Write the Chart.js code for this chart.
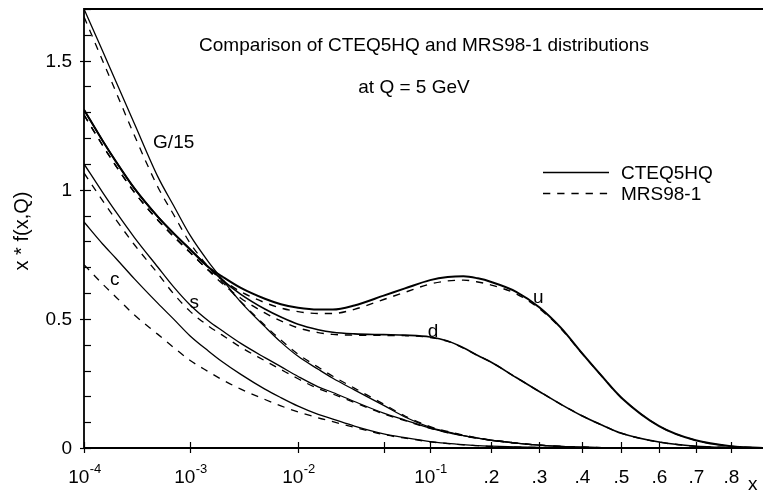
<!DOCTYPE html>
<html>
<head>
<meta charset="utf-8">
<script src="https://cdn.jsdelivr.net/npm/chart.js@4.4.1/dist/chart.umd.min.js"></script>
<style>
  html, body { margin: 0; padding: 0; background: #fff; }
  #wrap { width: 763px; height: 495px; position: relative; }
</style>
</head>
<body>
<div id="wrap"><canvas id="c" width="763" height="495"></canvas></div>
<script>
// ---------------- data ----------------
const xValues = [1e-4, 1.5e-4, 2e-4, 3e-4, 5e-4, 7e-4,
                 1e-3, 1.5e-3, 2e-3, 3e-3, 5e-3, 7e-3,
                 1e-2, 1.5e-2, 2e-2, 3e-2, 5e-2, 7e-2,
                 0.1, 0.125, 0.15, 0.175, 0.2, 0.25,
                 0.3, 0.35, 0.4, 0.45, 0.5, 0.6,
                 0.7, 0.8, 0.892];

const gluonCTEQ = [1.70, 1.537, 1.42, 1.256, 1.05, 0.94,
                   0.825, 0.72, 0.655, 0.565, 0.47, 0.41,
                   0.355, 0.305, 0.27, 0.225, 0.165, 0.12,
                   0.08, 0.062, 0.048, 0.038, 0.03, 0.019,
                   0.011, 0.006, 0.003, 0.0015, 0.0008, 0.0002,
                   0, 0, 0];
const gluonMRS  = [1.67, 1.50, 1.38, 1.21, 1.01, 0.905,
                   0.795, 0.70, 0.645, 0.567, 0.475, 0.418,
                   0.363, 0.313, 0.278, 0.232, 0.17, 0.124,
                   0.083, 0.064, 0.05, 0.039, 0.031, 0.019,
                   0.011, 0.006, 0.003, 0.0015, 0.0008, 0.0002,
                   0, 0, 0];
const upCTEQ    = [1.31, 1.19, 1.11, 1.005, 0.895, 0.832,
                   0.77, 0.70, 0.665, 0.62, 0.578, 0.557,
                   0.543, 0.536, 0.536, 0.552, 0.59, 0.618,
                   0.65, 0.662, 0.665, 0.657, 0.643, 0.605,
                   0.545, 0.465, 0.368, 0.278, 0.195, 0.085,
                   0.03, 0.007, 0];
const upMRS     = [1.29, 1.172, 1.093, 0.99, 0.882, 0.82,
                   0.758, 0.688, 0.652, 0.605, 0.563, 0.542,
                   0.528, 0.521, 0.521, 0.537, 0.575, 0.603,
                   0.635, 0.647, 0.65, 0.643, 0.631, 0.597,
                   0.54, 0.462, 0.367, 0.278, 0.195, 0.085,
                   0.03, 0.007, 0];
const downCTEQ  = [1.31, 1.19, 1.11, 1.005, 0.895, 0.832,
                   0.77, 0.70, 0.652, 0.595, 0.538, 0.507,
                   0.479, 0.458, 0.448, 0.442, 0.439, 0.437,
                   0.43, 0.414, 0.388, 0.358, 0.332, 0.273,
                   0.219, 0.169, 0.125, 0.089, 0.057, 0.023,
                   0.007, 0.002, 0];
const downMRS   = [1.29, 1.172, 1.093, 0.99, 0.882, 0.82,
                   0.758, 0.687, 0.638, 0.58, 0.523, 0.492,
                   0.465, 0.447, 0.44, 0.437, 0.436, 0.435,
                   0.428, 0.413, 0.387, 0.358, 0.332, 0.273,
                   0.219, 0.169, 0.125, 0.089, 0.057, 0.023,
                   0.007, 0.002, 0];
const strangeCTEQ = [1.10, 0.99, 0.915, 0.815, 0.70, 0.625,
                     0.555, 0.492, 0.455, 0.405, 0.35, 0.315,
                     0.277, 0.237, 0.215, 0.18, 0.135, 0.108,
                     0.077, 0.06, 0.048, 0.038, 0.03, 0.019,
                     0.011, 0.006, 0.003, 0.0015, 0.0007, 0.0001,
                     0, 0, 0];
const strangeMRS  = [1.065, 0.958, 0.885, 0.787, 0.675, 0.598,
                     0.53, 0.472, 0.438, 0.39, 0.338, 0.304,
                     0.268, 0.23, 0.209, 0.176, 0.132, 0.106,
                     0.076, 0.059, 0.047, 0.037, 0.03, 0.019,
                     0.011, 0.006, 0.003, 0.0015, 0.0007, 0.0001,
                     0, 0, 0];
const charmCTEQ = [0.875, 0.79, 0.735, 0.655, 0.56, 0.50,
                   0.435, 0.375, 0.335, 0.285, 0.228, 0.195,
                   0.162, 0.13, 0.112, 0.085, 0.055, 0.04,
                   0.025, 0.018, 0.013, 0.009, 0.007, 0.004,
                   0.002, 0.001, 0, 0, 0, 0,
                   0, 0, 0];
const charmMRS  = [0.71, 0.635, 0.585, 0.515, 0.44, 0.39,
                   0.34, 0.295, 0.265, 0.228, 0.188, 0.163,
                   0.14, 0.117, 0.102, 0.08, 0.052, 0.038,
                   0.024, 0.017, 0.012, 0.009, 0.006, 0.0035,
                   0.0018, 0.0008, 0, 0, 0, 0,
                   0, 0, 0];

const xTickValues = [1e-4, 1e-3, 1e-2, 5e-2, 0.1, 0.2, 0.3, 0.4, 0.5, 0.6, 0.7, 0.8];
const xTickLabels = [['10','-4'], ['10','-3'], ['10','-2'], null, ['10','-1'], ['.2'], ['.3'], ['.4'], ['.5'], ['.6'], ['.7'], ['.8']];
const yMajorTicks = [0, 0.5, 1, 1.5];
const yMajorLabels = ['0', '0.5', '1', '1.5'];
const yMinorStep = 0.1;

const titleLine1 = 'Comparison of CTEQ5HQ and MRS98-1 distributions';
const titleLine2 = 'at Q = 5 GeV';
const legendLabels = ['CTEQ5HQ', 'MRS98-1'];
const curveLabels = [
  { text: 'G/15', x: 4.5e-4, y: 1.162 },
  { text: 'u', x: 0.286, y: 0.562 },
  { text: 'd', x: 0.097, y: 0.43 },
  { text: 's', x: 9.9e-4, y: 0.542 },
  { text: 'c', x: 1.76e-4, y: 0.631 }
];

// ---------------- mixed log/linear x scale ----------------
const MIX_A = 2.78;
function mix(v) { return Math.log10(v) + MIX_A * v; }

class MixLogScale extends Chart.Scale {
  determineDataLimits() {
    const mm = this.getMinMax(true);
    this.min = this.options.min != null ? this.options.min : mm.min;
    this.max = this.options.max != null ? this.options.max : mm.max;
  }
  buildTicks() { return xTickValues.map(v => ({ value: v })); }
  configure() {
    super.configure();
    this._t0 = mix(this.min);
    this._tr = mix(this.max) - this._t0;
  }
  getLabelForValue(v) { return String(v); }
  getPixelForValue(v) {
    if (v == null || isNaN(v) || v <= 0) return NaN;
    return this.getPixelForDecimal((mix(v) - this._t0) / this._tr);
  }
  getPixelForTick(i) { return this.getPixelForValue(this.ticks[i].value); }
  getValueForPixel(p) {
    const d = this.getDecimalForPixel(p);
    const target = this._t0 + d * this._tr;
    let lo = 1e-8, hi = 10;
    for (let k = 0; k < 80; k++) {
      const mid = Math.sqrt(lo * hi);
      if (mix(mid) < target) lo = mid; else hi = mid;
    }
    return lo;
  }
}
MixLogScale.id = 'mixlog';
MixLogScale.defaults = {};
Chart.register(MixLogScale);

// ---------------- datasets ----------------
function pts(arr) { return xValues.map((x, i) => ({ x: x, y: arr[i] })); }
const DASH = [7.3, 6.9];
function ds(arr, dashed, width) {
  return {
    data: pts(arr),
    borderColor: '#000',
    borderWidth: width,
    borderDash: dashed ? DASH : [],
    pointRadius: 0,
    fill: false,
    cubicInterpolationMode: 'monotone'
  };
}
const datasets = [
  ds(gluonCTEQ, false, 1.3), ds(gluonMRS, true, 1.3),
  ds(upCTEQ, false, 2.0), ds(upMRS, true, 1.4),
  ds(downCTEQ, false, 1.6), ds(downMRS, true, 1.4),
  ds(strangeCTEQ, false, 1.3), ds(strangeMRS, true, 1.3),
  ds(charmCTEQ, false, 1.3), ds(charmMRS, true, 1.3)
];

const FONT = '"Liberation Sans", Arial, Helvetica, sans-serif';

const decor = {
  id: 'decor',
  afterDraw(chart) {
    const ctx = chart.ctx;
    const xs = chart.scales.x, ys = chart.scales.y;
    const a = chart.chartArea;
    ctx.save();
    ctx.strokeStyle = '#000';
    ctx.fillStyle = '#000';
    // frame
    ctx.lineWidth = 1.8;
    ctx.beginPath();
    ctx.moveTo(a.left, a.bottom); ctx.lineTo(a.right, a.bottom);
    ctx.moveTo(a.left, a.bottom); ctx.lineTo(a.left, a.top);
    ctx.lineTo(a.right, a.top);
    ctx.stroke();
    // y ticks
    ctx.lineWidth = 1.2;
    for (let v = 0; v <= ys.max + 1e-9; v += yMinorStep) {
      const y = Math.round(ys.getPixelForValue(v)) + 0.5;
      const major = yMajorTicks.some(m => Math.abs(m - v) < 1e-6);
      ctx.beginPath();
      ctx.moveTo(a.left - (major ? 4 : 0), y);
      ctx.lineTo(a.left + 7, y);
      ctx.stroke();
    }
    ctx.font = '19px ' + FONT;
    ctx.textAlign = 'right';
    ctx.textBaseline = 'middle';
    yMajorTicks.forEach((v, i) => {
      ctx.fillText(yMajorLabels[i], a.left - 12, ys.getPixelForValue(v) + 1);
    });
    // x ticks
    xs.ticks.forEach((t, i) => {
      const x = Math.round(xs.getPixelForValue(t.value)) + 0.5;
      ctx.beginPath();
      ctx.moveTo(x, a.bottom - 6);
      ctx.lineTo(x, a.bottom + 5);
      ctx.stroke();
      const lab = xTickLabels[i];
      if (!lab) return;
      ctx.textBaseline = 'alphabetic';
      if (lab.length === 2) {
        ctx.font = '19px ' + FONT;
        const w1 = ctx.measureText(lab[0]).width;
        ctx.font = '13px ' + FONT;
        const w2 = ctx.measureText(lab[1]).width;
        const left = x - (w1 + w2) / 2;
        ctx.textAlign = 'left';
        ctx.font = '19px ' + FONT;
        ctx.fillText(lab[0], left, a.bottom + 35);
        ctx.font = '13px ' + FONT;
        ctx.fillText(lab[1], left + w1 + 0.5, a.bottom + 25);
      } else {
        ctx.font = '19px ' + FONT;
        ctx.textAlign = 'center';
        ctx.fillText(lab[0], x, a.bottom + 35);
      }
    });
    // axis titles
    ctx.font = '19px ' + FONT;
    ctx.textAlign = 'left';
    ctx.textBaseline = 'alphabetic';
    ctx.fillText('x', 748, 490);
    ctx.save();
    ctx.translate(28, 231);
    ctx.rotate(-Math.PI / 2);
    ctx.textAlign = 'center';
    ctx.font = '20px ' + FONT;
    ctx.fillText('x * f(x,Q)', 0, 0);
    ctx.restore();
    // titles
    ctx.font = '19px ' + FONT;
    ctx.textAlign = 'center';
    ctx.fillText(titleLine1, 424, 51);
    ctx.fillText(titleLine2, 414, 93);
    // legend
    ctx.lineWidth = 1.3;
    ctx.beginPath(); ctx.moveTo(543, 172.5); ctx.lineTo(609, 172.5); ctx.stroke();
    ctx.setLineDash(DASH);
    ctx.beginPath(); ctx.moveTo(543, 193.5); ctx.lineTo(609, 193.5); ctx.stroke();
    ctx.setLineDash([]);
    ctx.textAlign = 'left';
    ctx.textBaseline = 'alphabetic';
    ctx.fillText(legendLabels[0], 621, 179);
    ctx.fillText(legendLabels[1], 621, 200);
    // curve labels
    ctx.font = '19px ' + FONT;
    curveLabels.forEach(l => {
      ctx.fillText(l.text, xs.getPixelForValue(l.x), ys.getPixelForValue(l.y));
    });
    ctx.restore();
  }
};

new Chart(document.getElementById('c'), {
  type: 'line',
  data: { datasets: datasets },
  options: {
    responsive: false,
    animation: false,
    events: [],
    layout: { padding: { left: 84, top: 9, right: 0, bottom: 47 } },
    plugins: { legend: { display: false }, tooltip: { enabled: false } },
    scales: {
      x: { type: 'mixlog', min: 1e-4, max: 0.892, display: false },
      y: { type: 'linear', min: 0, max: 1.7, display: false }
    }
  },
  plugins: [decor]
});
</script>
</body>
</html>
